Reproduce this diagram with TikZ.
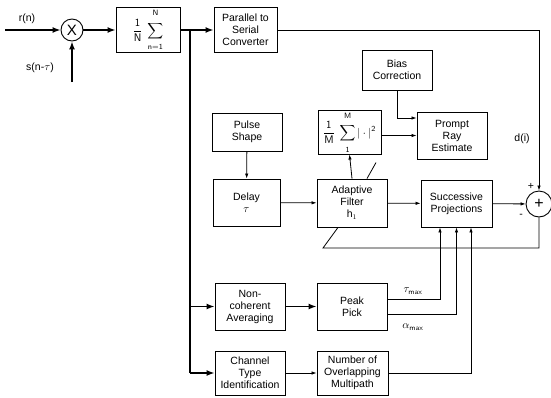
\documentclass[tikz,border=0pt]{standalone}
\usepackage{amsmath,amssymb}
\usepackage{fontspec}
\setmainfont{Liberation Sans}
\usepackage{tikz}
\usetikzlibrary{arrows.meta,positioning,calc}

% limits pushed a little away from the sigma
\newcommand{\up}[1]{\rule[-5pt]{0pt}{5pt}\mathsf{#1}}
\newcommand{\dn}[1]{\rule{0pt}{8pt}\mathsf{#1}}

\begin{document}
\begin{tikzpicture}[
  x=1pt,y=-1pt,
  blk/.style={draw,line width=0.9pt,minimum width=70pt,minimum height=47pt,
    align=center,inner sep=1pt,font=\fontsize{10.5}{12}\selectfont},
  mathblk/.style={blk,font=\fontsize{11}{13}\selectfont},
  sumnode/.style={draw,circle,line width=0.9pt,inner sep=0pt},
  arr/.style={-{Latex[length=5pt,width=3.5pt]},line width=0.8pt},
  tarr/.style={-{Latex[length=8pt,width=6pt]},line width=1.5pt},
  bus/.style={line width=1.5pt},
  lbl/.style={font=\fontsize{10.5}{12}\selectfont}
]
\useasboundingbox (0,0) rectangle (551,397);

% front end
\node[sumnode,minimum size=22pt,font=\fontsize{15}{15}\selectfont] (mult) at (72,30) {X};
\coordinate (rin) at (5,30);
\coordinate (sin) at (72,82);
\node[lbl] (rlab) at (27,19) {r(n)};
\node[lbl] (slab) at (40,68) {s(n-$\tau$)};
\node[mathblk,minimum width=64pt,minimum height=45pt] (avg) at (148,30)
  {$\displaystyle\frac{\mathsf{1}}{\mathsf{N}}\;\sum_{\dn{n=1}}^{\up{N}}$};
\node[blk,minimum width=63pt,minimum height=45pt] (p2s) at (245.5,30)
  {Parallel to\\Serial\\Converter};
\draw[tarr] (rin) -- (mult);
\draw[tarr] (sin) -- (mult.south);
\draw[tarr] (mult) -- (avg);
\draw[tarr] (avg) -- (p2s);

% middle section
\node[blk,minimum height=40pt] (bias) at (397,70) {Bias\\Correction};
\node[blk] (prompt) at (452,135.5) {Prompt\\Ray\\Estimate};
\node[mathblk,minimum width=63pt,minimum height=41pt] (msum) at (349.5,132.5)
  {$\displaystyle\frac{\mathsf{1}}{\mathsf{M}}\;\sum_{\dn{1}}^{\up{M}}|\cdot|^{\mathsf{2}}$};
\node[blk,minimum height=38pt] (pulse) at (247,132) {Pulse\\Shape};
\node[blk,minimum width=67pt] (delay) at (246.5,202.5) {Delay\\$\tau$};
\node[blk,minimum height=48pt] (adapt) at (352,203) {Adaptive\\Filter\\h$_1$};
\node[blk,minimum width=71pt] (succ) at (456.5,203.5) {Successive\\Projections};
\node[sumnode,minimum size=26pt,font=\fontsize{16}{16}\selectfont] (adder) at (539,204) {+};
\node[lbl] (dlab) at (522,139) {d(i)};
\node[lbl] (plus) at (531,186) {+};
\node[lbl] (minus) at (521,216) {-};
\coordinate (fb) at (323,248);

\draw[arr] (p2s.east) -| (adder.north);
\draw[arr] (bias.south) |- ([yshift=17.5pt]prompt.west);
\draw[arr] (msum.east |- prompt.west) -- (prompt.west);
\draw[arr] (pulse) -- (delay);
\draw[arr] (delay) -- (adapt);
\draw[arr] (adapt.north) -- (msum.south);
\draw[arr] (adapt) -- (succ);
\draw[arr] (succ) -- (adder);
\draw[line width=0.8pt] (adder.south) |- (fb) -- ([xshift=-14pt]adapt.south);
\draw[line width=0.8pt] ([xshift=15pt]adapt.north) -- ++(9,-16);

% lower section
\node[blk] (noncoh) at (250,306.5) {Non-\\coherent\\Averaging};
\node[blk] (peak) at (352,306.5) {Peak\\Pick};
\node[blk,minimum height=44pt] (chtype) at (250,373) {Channel\\Type\\Identification};
\node[blk,minimum width=71pt,minimum height=44pt] (nover) at (352.5,373)
  {Number of\\Overlapping\\Multipath};
\node[lbl] (tlab) at (413,291) {$\tau_{\mathsf{max}}$};
\node[lbl] (alab) at (413,327) {$\alpha_{\mathsf{max}}$};

\coordinate (br) at (190,30);
\draw[bus] (br) -- (br |- chtype);
\draw[tarr] (br |- noncoh) -- (noncoh);
\draw[tarr] (br |- chtype) -- (chtype);
\draw[tarr] (noncoh) -- (peak);
\draw[arr] (chtype) -- (nover);
\draw[arr] ([yshift=7.5pt]peak.east) -| ([xshift=-16.5pt]succ.south);
\draw[arr] ([yshift=-7.5pt]peak.east) -| (succ.south);
\draw[arr] (nover.east) -| ([xshift=14.5pt]succ.south);
\end{tikzpicture}
\end{document}
